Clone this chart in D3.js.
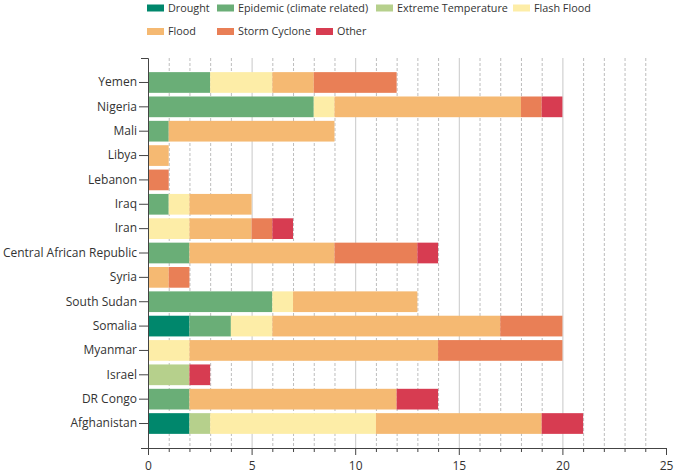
<!DOCTYPE html>
<html>
<head>
<meta charset="utf-8">
<script src="https://cdn.jsdelivr.net/npm/d3@7/dist/d3.min.js"></script>
<style>
  html, body { margin: 0; padding: 0; background: #fff; }
  svg { display: block; font-family: "Open Sans", sans-serif; }
</style>
</head>
<body>
<svg id="chart" width="674" height="473"></svg>
<script>
// ---- data ----
const categories = ["Yemen", "Nigeria", "Mali", "Libya", "Lebanon", "Iraq", "Iran",
  "Central African Republic", "Syria", "South Sudan", "Somalia", "Myanmar", "Israel",
  "DR Congo", "Afghanistan"];
const seriesNames = ["Drought", "Epidemic (climate related)", "Extreme Temperature",
  "Flash Flood", "Flood", "Storm Cyclone", "Other"];
const drought      = [0, 0, 0, 0, 0, 0, 0, 0, 0, 0, 2, 0, 0, 0, 2];
const epidemic     = [3, 8, 1, 0, 0, 1, 0, 2, 0, 6, 2, 0, 0, 2, 0];
const extremeTemp  = [0, 0, 0, 0, 0, 0, 0, 0, 0, 0, 0, 0, 2, 0, 1];
const flashFlood   = [3, 1, 0, 0, 0, 1, 2, 0, 0, 1, 2, 2, 0, 0, 8];
const flood        = [2, 9, 8, 1, 0, 3, 3, 7, 1, 6, 11, 12, 0, 10, 8];
const stormCyclone = [4, 1, 0, 0, 1, 0, 1, 4, 1, 0, 3, 6, 0, 0, 0];
const other        = [0, 1, 0, 0, 0, 0, 1, 1, 0, 0, 0, 0, 1, 2, 2];
const xTickLabels  = [0, 5, 10, 15, 20, 25];
const colors = ["#00876c", "#6aae77", "#b6d08c", "#fdeda7", "#f5b972", "#e97f56", "#d73c51"];

// ---- build table ----
const seriesValues = [drought, epidemic, extremeTemp, flashFlood, flood, stormCyclone, other];
const table = categories.map((c, i) => {
  const row = { country: c };
  seriesNames.forEach((s, j) => row[s] = seriesValues[j][i]);
  return row;
});
const stacked = d3.stack().keys(seriesNames)(table);

// ---- layout ----
const svg = d3.select("#chart");
const plotLeft = 148, plotTop = 58, plotBottom = 448, plotRight = 666;
const x = d3.scaleLinear().domain([0, 25]).range([plotLeft, plotRight]);
const y = d3.scaleBand().domain(categories).range([plotTop, plotBottom])
  .paddingInner(0.15).paddingOuter(0.58);
const color = d3.scaleOrdinal().domain(seriesNames).range(colors);

// grid
svg.append("g").selectAll("line").data(d3.range(1, 25)).join("line")
  .attr("x1", d => x(d) + 0.5).attr("x2", d => x(d) + 0.5)
  .attr("y1", plotTop).attr("y2", plotBottom)
  .attr("stroke", d => d % 5 === 0 ? "#c8c8c8" : "#bdbdbd")
  .attr("stroke-width", 1)
  .attr("stroke-dasharray", d => d % 5 === 0 ? null : "3,2");

// bars
svg.append("g").selectAll("g").data(stacked).join("g")
  .attr("fill", d => color(d.key))
  .selectAll("rect").data(d => d).join("rect")
  .attr("x", d => x(d[0]))
  .attr("y", d => y(d.data.country))
  .attr("width", d => x(d[1]) - x(d[0]))
  .attr("height", y.bandwidth());

// axes
const xAxis = d3.axisBottom(x).tickValues(d3.range(0, 26))
  .tickFormat(d => xTickLabels.includes(d) ? d : "")
  .tickSizeInner(4).tickSizeOuter(7).tickPadding(9);
const gx = svg.append("g").attr("transform", `translate(0,${plotBottom})`).call(xAxis);
gx.selectAll(".tick line").filter(d => d % 5 === 0).attr("y2", 7);
gx.selectAll("text").attr("font-size", 12).attr("fill", "#333").attr("font-family", "Open Sans");
gx.selectAll("line, path").attr("stroke", "#444");

const yAxis = d3.axisLeft(y).tickSizeInner(9).tickSizeOuter(7).tickPadding(2);
const gy = svg.append("g").attr("transform", `translate(${plotLeft},0)`).call(yAxis);
gy.selectAll("text").attr("font-size", 12).attr("fill", "#333").attr("font-family", "Open Sans");
gy.selectAll("line, path").attr("stroke", "#444");

// legend
const legendPos = [[147, 4.5], [217, 4.5], [376, 4.5], [513, 4.5], [147, 28], [217, 28], [316, 28]];
const lg = svg.append("g").selectAll("g").data(seriesNames).join("g")
  .attr("transform", (d, i) => `translate(${legendPos[i][0]},${legendPos[i][1]})`);
lg.append("rect").attr("width", 17).attr("height", 7).attr("fill", d => color(d));
lg.append("text").attr("x", 21).attr("y", 7)
  .attr("font-size", 10.8).attr("fill", "#333").text(d => d);
</script>
</body>
</html>
